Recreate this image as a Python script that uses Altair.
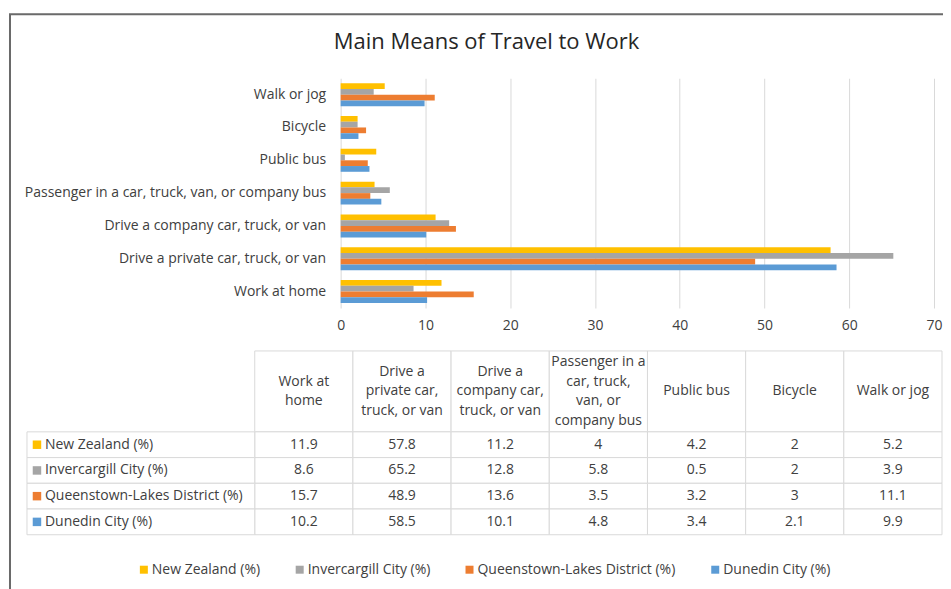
import altair as alt
import pandas as pd

# ---------------- data ----------------
categories = [
    "Work at home",
    "Drive a private car, truck, or van",
    "Drive a company car, truck, or van",
    "Passenger in a car, truck, van, or company bus",
    "Public bus",
    "Bicycle",
    "Walk or jog",
]
header_labels = [
    "Work at\nhome",
    "Drive a\nprivate car,\ntruck, or van",
    "Drive a\ncompany car,\ntruck, or van",
    "Passenger in a\ncar, truck,\nvan, or\ncompany bus",
    "Public bus",
    "Bicycle",
    "Walk or jog",
]
series = [
    "New Zealand (%)",
    "Invercargill City (%)",
    "Queenstown-Lakes District (%)",
    "Dunedin City (%)",
]
new_zealand = [11.9, 57.8, 11.2, 4, 4.2, 2, 5.2]
invercargill = [8.6, 65.2, 12.8, 5.8, 0.5, 2, 3.9]
queenstown = [15.7, 48.9, 13.6, 3.5, 3.2, 3, 11.1]
dunedin = [10.2, 58.5, 10.1, 4.8, 3.4, 2.1, 9.9]
x_ticks = [0, 10, 20, 30, 40, 50, 60, 70]
colors = ["#FFC000", "#A5A5A5", "#ED7D31", "#5B9BD5"]

rows = []
for s, vals in zip(series, [new_zealand, invercargill, queenstown, dunedin]):
    for c, v in zip(categories, vals):
        rows.append({"series": s, "category": c, "value": v, "label": f"{v:g}"})
df = pd.DataFrame(rows)
hdr = pd.DataFrame({
    "category": categories,
    "header": header_labels,
    "nlines": [h.count("\n") + 1 for h in header_labels],
})
ser = pd.DataFrame({"series": series})
frame = pd.DataFrame({"frame": [1]})

# ---------------- layout (pixels relative to the plot origin) ----------------
PLOT_W, PLOT_H = 594, 230
TABLE_X = [-86, 602]
LABEL_X = (-314, -86)
HEADER_Y = (273, 354)
ROWS_Y = [354, 457]
LINE_H = 19.7
HEADER_MID = (HEADER_Y[0] + HEADER_Y[1]) / 2

FONT = "Open Sans"
FS = 14
TEXT = "#404040"
GRID = "#D9D9D9"

color_scale = alt.Scale(domain=series, range=colors)
table_x = alt.X("category:N", sort=categories,
                scale=alt.Scale(type="band", range=TABLE_X, paddingInner=0, paddingOuter=0),
                axis=None)
rows_y = alt.Y("series:N", sort=series,
               scale=alt.Scale(type="band", range=ROWS_Y, paddingInner=0, paddingOuter=0),
               axis=None)

border = alt.Chart(frame).mark_rect(fillOpacity=0, stroke="#6a6a6a", strokeWidth=2).encode(
    x=alt.value(-331), x2=alt.value(640), y=alt.value(-64), y2=alt.value(560)
)

bars = alt.Chart(df).mark_bar().encode(
    x=alt.X("value:Q", scale=alt.Scale(domain=[0, 70], nice=False),
            axis=alt.Axis(title=None, values=x_ticks, grid=True, gridColor=GRID, ticks=False,
                          domain=False, labelPadding=11, labelFontSize=FS, labelColor=TEXT,
                          labelFlush=False, labelOverlap=False)),
    y=alt.Y("category:N", sort=categories[::-1],
            scale=alt.Scale(paddingInner=0.3, paddingOuter=0.15),
            axis=alt.Axis(title=None, ticks=False, domain=False, labelPadding=15,
                          labelFontSize=FS, labelColor=TEXT, labelLimit=400)),
    yOffset=alt.YOffset("series:N", sort=series, scale=alt.Scale(paddingInner=0, paddingOuter=0)),
    color=alt.Color("series:N", scale=color_scale,
                    legend=alt.Legend(title=None, orient="none", legendX=-204, legendY=485,
                                      direction="horizontal", symbolType="square", symbolSize=64,
                                      symbolStrokeWidth=0, labelFontSize=FS, labelColor=TEXT,
                                      labelLimit=400, columnPadding=32, labelOffset=1, padding=0)),
)

header_cells = alt.Chart(hdr).mark_rect(fill="white", stroke=GRID, strokeWidth=1).encode(
    x=table_x, y=alt.value(HEADER_Y[0]), y2=alt.value(HEADER_Y[1])
)
header_text = alt.Chart(hdr).mark_text(fontSize=FS, color=TEXT, lineBreak="\n", lineHeight=LINE_H,
                                       baseline="middle", align="center").encode(
    x=table_x,
    y=alt.Y("nlines:Q", axis=None,
            scale=alt.Scale(domain=[1, 4], range=[HEADER_MID, HEADER_MID - 1.5 * LINE_H], nice=False, zero=False)),
    text="header:N",
)
cells = alt.Chart(df).mark_rect(fill="white", stroke=GRID, strokeWidth=1).encode(x=table_x, y=rows_y)
cell_text = alt.Chart(df).mark_text(fontSize=FS, color=TEXT, baseline="middle", align="center").encode(
    x=table_x, y=rows_y, text="label:N"
)
label_cells = alt.Chart(ser).mark_rect(fill="white", stroke=GRID, strokeWidth=1).encode(
    x=alt.value(LABEL_X[0]), x2=alt.value(LABEL_X[1]), y=rows_y
)
label_keys = alt.Chart(ser).mark_square(size=72, opacity=1).encode(
    x=alt.value(LABEL_X[0] + 10), y=rows_y,
    color=alt.Color("series:N", scale=color_scale, legend=None)
)
label_text = alt.Chart(ser).mark_text(fontSize=FS, color=TEXT, baseline="middle", align="left").encode(
    x=alt.value(LABEL_X[0] + 18), y=rows_y, text="series:N"
)

chart = alt.layer(
    border, bars, header_cells, header_text, cells, cell_text, label_cells, label_keys, label_text
).resolve_scale(
    x="independent", y="independent", color="independent"
).properties(
    width=PLOT_W, height=PLOT_H,
    autosize="none",
    padding={"left": 333, "top": 70, "right": 9, "bottom": 281},
    title=alt.TitleParams("Main Means of Travel to Work", fontSize=22, font=FONT, fontWeight="normal",
                          color="#262626", anchor="middle", frame="group", offset=-41, dx=-151),
).configure(font=FONT).configure_view(stroke=None)

chart.save("out.html", embed_options={"renderer": "svg", "actions": False})
